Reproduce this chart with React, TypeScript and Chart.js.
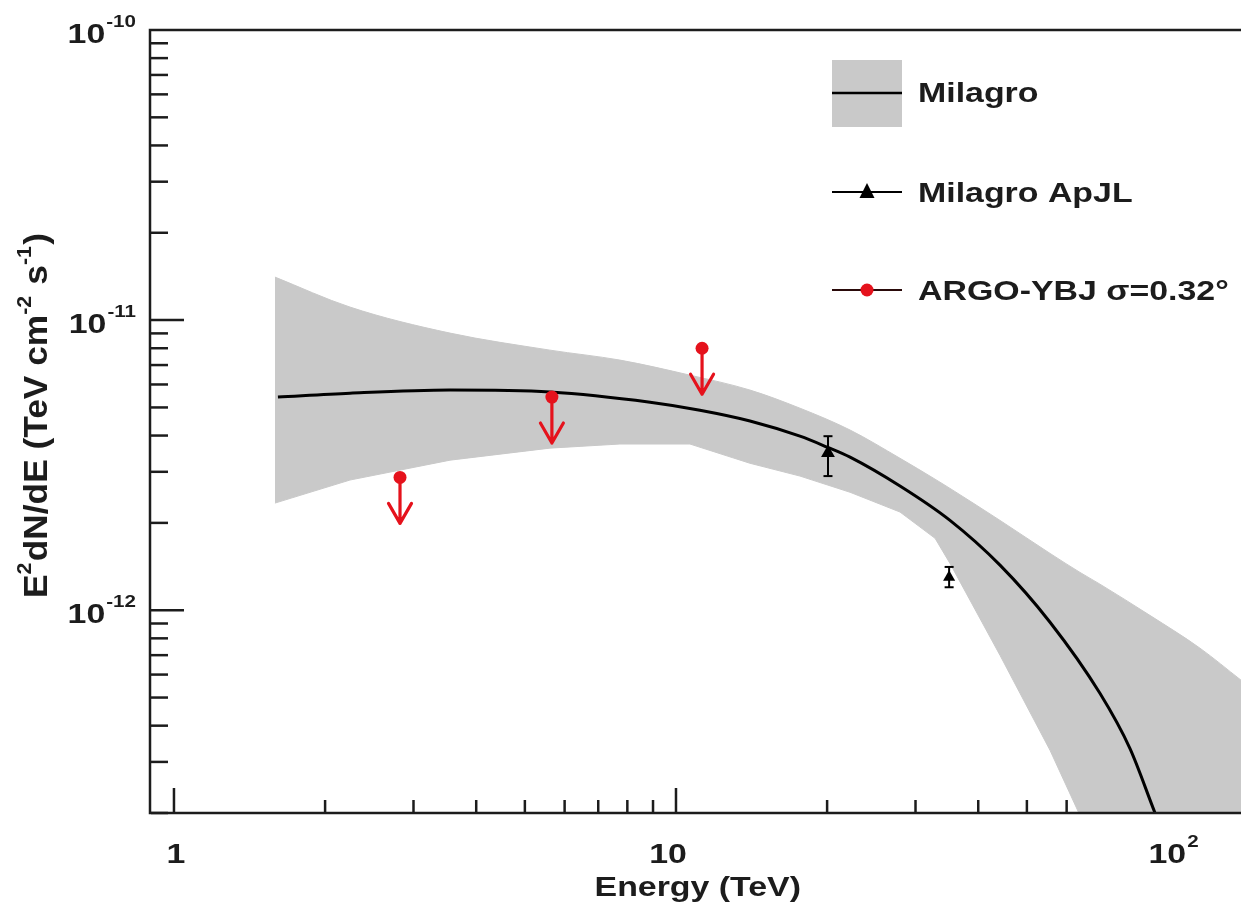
import { useEffect, useRef } from 'react';
import { Chart, registerables } from 'chart.js';

Chart.register(...registerables);

// ---- axis ranges ----
const X_MIN = 0.9;
const X_MAX = 133.5;
const Y_MIN = 2e-13;
const Y_MAX = 1e-10;

// ---- Milagro fit band (1 sigma) ----
const bandEnergy = [1.589, 2.242, 3.547, 5.61, 7.734, 10.66, 14.04, 17.66, 22.22, 27.94, 32.81, 35.14, 44.2, 55.6, 63.8, 69.9, 87.9, 110.6, 133.5];
const bandUpper = [1.407e-11, 1.109e-11, 9.02e-12, 7.88e-12, 7.28e-12, 6.46e-12, 5.74e-12, 4.97e-12, 4.18e-12, 3.34e-12, 2.83e-12, 2.63e-12, 2.04e-12, 1.57e-12, 1.35e-12, 1.23e-12, 9.6e-13, 7.4e-13, 5.74e-13];
const bandLower = [2.34e-12, 2.81e-12, 3.29e-12, 3.62e-12, 3.74e-12, 3.74e-12, 3.21e-12, 2.90e-12, 2.55e-12, 2.18e-12, 1.77e-12, 1.45e-12, 6.99e-13, 3.29e-13, 1.96e-13, 1.37e-13, 6.2e-14, 2.8e-14, 1.49e-14];

// ---- Milagro best fit curve ----
const curveEnergy = [1.611, 2.242, 3.547, 5.61, 8.88, 11.16, 14.04, 17.66, 20.0, 22.22, 27.94, 35.14, 44.2, 55.6, 69.9, 80.2, 90.0, 96.4];
const curveFlux = [5.43e-12, 5.60e-12, 5.74e-12, 5.65e-12, 5.21e-12, 4.89e-12, 4.49e-12, 3.98e-12, 3.65e-12, 3.37e-12, 2.68e-12, 2.04e-12, 1.43e-12, 9.09e-13, 5.17e-13, 3.34e-13, 2.0e-13, 1.49e-13];

// ---- Milagro ApJL points ----
const apjlEnergy = [20.08, 35.0];
const apjlFlux = [3.48e-12, 1.30e-12];
const apjlErrHi = [3.98e-12, 1.41e-12];
const apjlErrLo = [2.90e-12, 1.20e-12];

// ---- ARGO-YBJ upper limits ----
const argoEnergy = [2.82, 5.66, 11.27];
const argoFlux = [2.87e-12, 5.43e-12, 8.0e-12];

// ---- tick labels ----
const xTickValues = [1, 10, 100];
const xTickBase = ['1', '10', '10'];
const xTickExp = ['', '', '2'];
const yTickValues = [1e-10, 1e-11, 1e-12];
const yTickBase = ['10', '10', '10'];
const yTickExp = ['-10', '-11', '-12'];

const legendLabels = ['Milagro', 'Milagro ApJL', 'ARGO-YBJ \u03c3=0.32\u00b0'];
const xTitle = 'Energy (TeV)';
const yTitleParts = [
  { t: 'E', sup: false },
  { t: '2', sup: true },
  { t: 'dN/dE (TeV cm', sup: false },
  { t: '-2', sup: true },
  { t: ' s', sup: false },
  { t: '-1', sup: true },
  { t: ')', sup: false },
];

const GREY = '#c9c9c9';
const RED = '#e5121c';
const INK = '#1c1c1c';
const FAMILY = '"Liberation Sans", Arial, sans-serif';
const MAIN = `bold 28px ${FAMILY}`;
const SUP = `bold 17px ${FAMILY}`;
const SX = 1.21;

function textW(ctx: CanvasRenderingContext2D, t: string, font: string) {
  ctx.font = font;
  return ctx.measureText(t).width * SX;
}
function drawT(ctx: CanvasRenderingContext2D, t: string, x: number, y: number, font: string) {
  ctx.save();
  ctx.font = font;
  ctx.fillStyle = INK;
  ctx.textAlign = 'left';
  ctx.textBaseline = 'alphabetic';
  ctx.translate(x, y);
  ctx.scale(SX, 1);
  ctx.fillText(t, 0, 0);
  ctx.restore();
}
function line(ctx: CanvasRenderingContext2D, x1: number, y1: number, x2: number, y2: number, w: number, c: string) {
  ctx.save();
  ctx.strokeStyle = c;
  ctx.lineWidth = w;
  ctx.beginPath();
  ctx.moveTo(x1, y1);
  ctx.lineTo(x2, y2);
  ctx.stroke();
  ctx.restore();
}

const decor = {
  id: 'decor',
  beforeDatasetsDraw(chart: any) {
    const ctx: CanvasRenderingContext2D = chart.ctx;
    const xs = chart.scales.x;
    const ys = chart.scales.y;
    const a = chart.chartArea;
    // y ticks (inside, left)
    for (let e = -13; e <= -11; e++) {
      for (let m = 1; m <= 9; m++) {
        const v = m * Math.pow(10, e);
        if (v < Y_MIN * 0.999 || v > Y_MAX * 0.999) continue;
        const py = ys.getPixelForValue(v);
        const len = m === 1 ? 33 : 17;
        line(ctx, a.left, py, a.left + len, py, 2.5, INK);
      }
    }
    // x ticks (inside, bottom)
    for (let e = -1; e <= 2; e++) {
      for (let m = 1; m <= 9; m++) {
        const v = m * Math.pow(10, e);
        if (v < X_MIN * 1.01 || v > X_MAX) continue;
        const px = xs.getPixelForValue(v);
        const len = m === 1 ? 25 : 13;
        line(ctx, px, a.bottom, px, a.bottom - len, 2.5, INK);
      }
    }
  },
  beforeDatasetDraw(chart: any, args: any) {
    const ctx: CanvasRenderingContext2D = chart.ctx;
    const xs = chart.scales.x;
    const ys = chart.scales.y;
    if (args.index === 1) {
      apjlEnergy.forEach((x, i) => {
        const px = xs.getPixelForValue(x);
        const hi = ys.getPixelForValue(apjlErrHi[i]);
        const lo = ys.getPixelForValue(apjlErrLo[i]);
        line(ctx, px, hi, px, lo, 2, '#000');
        line(ctx, px - 4.5, hi, px + 4.5, hi, 2, '#000');
        line(ctx, px - 4.5, lo, px + 4.5, lo, 2, '#000');
      });
    }
    if (args.index === 0) {
      argoEnergy.forEach((x, i) => {
        const px = xs.getPixelForValue(x);
        const py = ys.getPixelForValue(argoFlux[i]);
        const tip = py + 46;
        ctx.save();
        ctx.strokeStyle = RED;
        ctx.lineWidth = 3.2;
        ctx.lineCap = 'round';
        ctx.lineJoin = 'round';
        ctx.beginPath();
        ctx.moveTo(px, py);
        ctx.lineTo(px, tip);
        ctx.moveTo(px - 11.5, tip - 20);
        ctx.lineTo(px, tip);
        ctx.lineTo(px + 11.5, tip - 20);
        ctx.stroke();
        ctx.restore();
      });
    }
  },
  afterDatasetsDraw(chart: any) {
    const ctx: CanvasRenderingContext2D = chart.ctx;
    const xs = chart.scales.x;
    const ys = chart.scales.y;
    const a = chart.chartArea;
    // frame: left, top, bottom
    ctx.save();
    ctx.strokeStyle = INK;
    ctx.lineWidth = 2.5;
    ctx.beginPath();
    ctx.moveTo(a.right + 2, a.top);
    ctx.lineTo(a.left - 1, a.top);
    ctx.lineTo(a.left - 1, a.bottom);
    ctx.lineTo(a.right + 2, a.bottom);
    ctx.stroke();
    ctx.restore();

    // y tick labels
    yTickValues.forEach((v, i) => {
      const py = ys.getPixelForValue(v);
      const wb = textW(ctx, yTickBase[i], MAIN);
      const we = textW(ctx, yTickExp[i], SUP);
      const right = 136;
      const x0 = right - we - wb - 1;
      const base = py + 3 + 10;
      drawT(ctx, yTickBase[i], x0, base, MAIN);
      drawT(ctx, yTickExp[i], x0 + wb + 1, base - 16, SUP);
    });
    // x tick labels
    xTickValues.forEach((v, i) => {
      const px = xs.getPixelForValue(v);
      const wb = textW(ctx, xTickBase[i], MAIN);
      const we = xTickExp[i] ? textW(ctx, xTickExp[i], SUP) : 0;
      const cx = px + (xTickBase[i].length === 1 ? 2 : xTickExp[i] ? -5 : -8);
      const x0 = cx - (wb + we) / 2;
      const base = 863;
      drawT(ctx, xTickBase[i], x0, base, MAIN);
      if (xTickExp[i]) drawT(ctx, xTickExp[i], x0 + wb + 1, base - 16, SUP);
    });
    // x title (right aligned)
    const wt = textW(ctx, xTitle, MAIN);
    drawT(ctx, xTitle, 801 - wt, 896, MAIN);

    // y title (rotated)
    ctx.save();
    ctx.translate(46.5, 598);
    ctx.rotate(-Math.PI / 2);
    let total = 0;
    yTitleParts.forEach((p) => {
      ctx.font = p.sup ? SUP : MAIN;
      total += ctx.measureText(p.t).width + (p.sup ? 1 : 0);
    });
    const sLen = 365 / total;
    ctx.scale(sLen, 1.2);
    ctx.fillStyle = INK;
    ctx.textBaseline = 'alphabetic';
    let cx = 0;
    yTitleParts.forEach((p) => {
      ctx.font = p.sup ? SUP : MAIN;
      ctx.fillText(p.t, cx, p.sup ? -13 : 0);
      cx += ctx.measureText(p.t).width + (p.sup ? 1 : 0);
    });
    ctx.restore();

    // legend
    ctx.save();
    ctx.fillStyle = GREY;
    ctx.fillRect(832, 60, 70, 67);
    ctx.restore();
    line(ctx, 832, 93, 902, 93, 2.5, '#000');
    drawT(ctx, legendLabels[0], 918, 102, MAIN);

    line(ctx, 832, 192, 902, 192, 2, '#000');
    ctx.save();
    ctx.fillStyle = '#000';
    ctx.beginPath();
    ctx.moveTo(867, 183);
    ctx.lineTo(874.5, 198);
    ctx.lineTo(859.5, 198);
    ctx.closePath();
    ctx.fill();
    ctx.restore();
    drawT(ctx, legendLabels[1], 918, 202, MAIN);

    line(ctx, 832, 290, 902, 290, 2, '#2a0a0a');
    ctx.save();
    ctx.fillStyle = RED;
    ctx.beginPath();
    ctx.arc(867, 290, 6.5, 0, Math.PI * 2);
    ctx.fill();
    ctx.restore();
    drawT(ctx, legendLabels[2], 918, 300, MAIN);
  },
};

export default function App() {
  const ref = useRef<HTMLCanvasElement>(null);
  useEffect(() => {
    const canvas = ref.current;
    if (!canvas) return;
    const chart = new Chart(canvas, {
      type: 'line',
      data: {
        datasets: [
          {
            label: 'ARGO-YBJ',
            data: argoEnergy.map((x, i) => ({ x, y: argoFlux[i] })),
            showLine: false,
            pointStyle: 'circle',
            pointRadius: 6.5,
            backgroundColor: RED,
            borderColor: RED,
            pointBorderWidth: 0,
            order: 0,
          },
          {
            label: 'Milagro ApJL',
            data: apjlEnergy.map((x, i) => ({ x, y: apjlFlux[i] })),
            showLine: false,
            pointStyle: 'triangle',
            pointRadius: [8, 7],
            backgroundColor: '#000',
            borderColor: '#000',
            pointBorderWidth: 0,
            order: 1,
          },
          {
            label: 'Milagro',
            data: curveEnergy.map((x, i) => ({ x, y: curveFlux[i] })),
            borderColor: '#000',
            borderWidth: 3,
            pointRadius: 0,
            cubicInterpolationMode: 'monotone',
            fill: false,
            order: 2,
          },
          {
            label: 'band low',
            data: bandEnergy.map((x, i) => ({ x, y: bandLower[i] })),
            borderColor: GREY,
            borderWidth: 1,
            pointRadius: 0,
            tension: 0,
            fill: false,
            order: 4,
          },
          {
            label: 'band high',
            data: bandEnergy.map((x, i) => ({ x, y: bandUpper[i] })),
            borderColor: GREY,
            borderWidth: 1,
            backgroundColor: GREY,
            pointRadius: 0,
            cubicInterpolationMode: 'monotone',
            fill: 3,
            order: 3,
          },
        ],
      } as any,
      options: {
        responsive: false,
        animation: false,
        events: [],
        layout: { autoPadding: false, padding: { left: 151, top: 30, right: 0, bottom: 94 } },
        scales: {
          x: { type: 'logarithmic', min: X_MIN, max: X_MAX, display: false },
          y: { type: 'logarithmic', min: Y_MIN, max: Y_MAX, display: false },
        },
        plugins: {
          legend: { display: false },
          tooltip: { enabled: false },
        },
      } as any,
      plugins: [decor],
    });
    return () => chart.destroy();
  }, []);
  return (
    <div style={{ position: 'fixed', left: 0, top: 0, width: 1241, height: 907, background: '#fff' }}>
      <canvas ref={ref} width={1241} height={907} style={{ width: 1241, height: 907, display: 'block' }} />
    </div>
  );
}
